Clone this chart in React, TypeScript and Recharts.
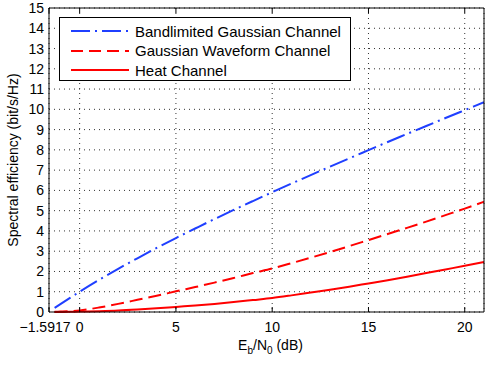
import React from "react";
import { LineChart, Line, XAxis, YAxis, CartesianGrid, Legend } from "recharts";

// Eb/N0 sample points (dB)
const ebn0 = [-1.3, -1, -0.5, 0, 1, 2, 3, 4, 5, 6, 7, 8, 9, 10, 11, 12, 13, 14, 15, 16, 17, 18, 19, 20, 21];

// spectral efficiency (bit/s/Hz)
const bandlimited = [0.2, 0.39, 0.7, 1.0, 1.58, 2.13, 2.65, 3.16, 3.65, 4.12, 4.585, 5.035, 5.475, 5.91, 6.335, 6.755, 7.17, 7.58, 7.985, 8.39, 8.785, 9.18, 9.57, 9.96, 10.35];
const waveform = [0.01, 0.02, 0.04, 0.08, 0.22, 0.4, 0.6, 0.8, 1.02, 1.23, 1.45, 1.68, 1.92, 2.15, 2.41, 2.68, 2.96, 3.25, 3.55, 3.85, 4.15, 4.46, 4.78, 5.1, 5.44];
const heat = [0, 0.003, 0.008, 0.02, 0.04, 0.07, 0.12, 0.18, 0.25, 0.32, 0.4, 0.49, 0.59, 0.69, 0.82, 0.96, 1.1, 1.25, 1.41, 1.57, 1.74, 1.92, 2.1, 2.28, 2.47];

const xTicks = [-1.5917, 0, 5, 10, 15, 20];
const yTicks = [0, 1, 2, 3, 4, 5, 6, 7, 8, 9, 10, 11, 12, 13, 14, 15];

const seriesNames = ["Bandlimited Gaussian Channel", "Gaussian Waveform Channel", "Heat Channel"];

const data = ebn0.map((x, i) => ({ x, band: bandlimited[i], wave: waveform[i], heat: heat[i] }));

const FONT = "'Liberation Sans', Arial, Helvetica, sans-serif";
const BLUE = "#1f3fff";
const RED = "#ff0000";

const legendItems = [
  { name: seriesNames[0], color: BLUE, dash: "19 5 2 5" },
  { name: seriesNames[1], color: RED, dash: "12 6" },
  { name: seriesNames[2], color: RED, dash: undefined },
];

const LegendBox = () => (
  <div
    style={{
      width: 292,
      height: 64,
      border: "1px solid #000",
      background: "#fff",
      boxSizing: "border-box",
      position: "relative",
      fontFamily: FONT,
      fontSize: 15,
      color: "#000",
    }}
  >
    {legendItems.map((it, i) => (
      <div
        key={it.name}
        style={{ position: "absolute", left: 0, top: 3 + i * 19.5, height: 20, display: "flex", alignItems: "center" }}
      >
        <svg width={70} height={20} style={{ marginLeft: 10 }}>
          <line x1={1} y1={10} x2={59} y2={10} stroke={it.color} strokeWidth={2} strokeDasharray={it.dash} />
        </svg>
        <span style={{ marginLeft: -5, whiteSpace: "nowrap" }}>{it.name}</span>
      </div>
    ))}
  </div>
);

const emptyTick = () => <g />;

// bottom tick labels; the odd -1.5917 label is nudged left so it clears "0"
const XTick = (props: any) => {
  const { x, y, payload } = props;
  const v = payload.value;
  const label = v < 0 ? "\u22121.5917" : String(v);
  return (
    <text x={x + (v < 0 ? -4 : 0)} y={y} dy="0.71em" textAnchor="middle" fontSize={14} fontFamily={FONT} fill="#000">
      {label}
    </text>
  );
};

export default function App() {
  return (
    <div style={{ position: "absolute", left: 0, top: 0, width: 485, height: 365, background: "#fff" }}>
      <LineChart width={485} height={365} data={data} margin={{ top: 8, right: 1, bottom: 0, left: 0 }}>
        <CartesianGrid stroke="#333" strokeDasharray="1 4" strokeWidth={1} />
        <XAxis
          dataKey="x"
          type="number"
          domain={[-1.5917, 21]}
          ticks={xTicks}
          interval={0}
          allowDataOverflow
          height={53}
          tickLine={false}
          tickSize={6}
          tickMargin={4}
          axisLine={{ stroke: "#000" }}
          tick={XTick}
          label={(props: any) => {
            const vb = props.viewBox || { x: 49, width: 435 };
            const cx = vb.x + vb.width / 2 + 4;
            return (
              <text x={cx} y={350} textAnchor="middle" fontSize={14} fontFamily={FONT} fill="#000">
                E<tspan dy={4} fontSize={10}>b</tspan>
                <tspan dy={-4}>/N</tspan>
                <tspan dy={4} fontSize={10}>0</tspan>
                <tspan dy={-4}> (dB)</tspan>
              </text>
            );
          }}
        />
        <XAxis xAxisId="bin" dataKey="x" type="number" domain={[-1.5917, 21]} ticks={xTicks} interval={0} allowDataOverflow orientation="bottom" mirror height={1} axisLine={false} tickLine={{ stroke: "#000" }} tickSize={5} tick={emptyTick} />
        <XAxis xAxisId="top" dataKey="x" type="number" domain={[-1.5917, 21]} ticks={xTicks} interval={0} allowDataOverflow orientation="top" mirror height={1} axisLine={{ stroke: "#000" }} tickLine={{ stroke: "#000" }} tickSize={5} tick={emptyTick} />
        <YAxis
          type="number"
          domain={[0, 15]}
          ticks={yTicks}
          interval={0}
          width={49}
          tickLine={false}
          tickSize={3}
          tickMargin={2}
          axisLine={{ stroke: "#000" }}
          tick={{ fill: "#000", fontSize: 14, fontFamily: FONT }}
          label={() => (
            <text x={18} y={160} transform="rotate(-90, 18, 160)" textAnchor="middle" fontSize={14} fontFamily={FONT} fill="#000">
              Spectral efficiency (bit/s/Hz)
            </text>
          )}
        />
        <YAxis yAxisId="lin" type="number" domain={[0, 15]} ticks={yTicks} interval={0} orientation="left" mirror width={1} axisLine={false} tickLine={{ stroke: "#000" }} tickSize={5} tick={emptyTick} />
        <YAxis yAxisId="right" type="number" domain={[0, 15]} ticks={yTicks} interval={0} orientation="right" mirror width={1} axisLine={{ stroke: "#000" }} tickLine={{ stroke: "#000" }} tickSize={5} tick={emptyTick} />
        <Legend
          layout="vertical"
          align="center"
          verticalAlign="middle"
          wrapperStyle={{ top: 17, left: 59, width: 292, height: 64 }}
          content={() => <LegendBox />}
        />
        <Line dataKey="band" name={seriesNames[0]} stroke={BLUE} strokeWidth={2} strokeDasharray="19 5 2 5" dot={false} type="monotone" isAnimationActive={false} />
        <Line dataKey="wave" name={seriesNames[1]} stroke={RED} strokeWidth={2} strokeDasharray="13 6" dot={false} type="monotone" isAnimationActive={false} />
        <Line dataKey="heat" name={seriesNames[2]} stroke={RED} strokeWidth={2} dot={false} type="monotone" isAnimationActive={false} />
      </LineChart>
    </div>
  );
}
